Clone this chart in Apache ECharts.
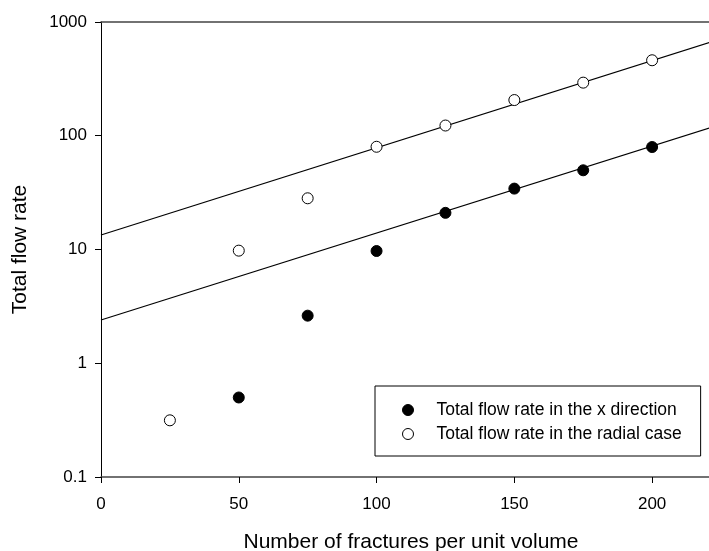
<!DOCTYPE html>
<html>
<head>
<meta charset="utf-8" />
<style>
  html, body { margin: 0; padding: 0; background: #fff; }
  #main { width: 709px; height: 551px; }
</style>
</head>
<body>
<div id="main"></div>
<script src="https://cdn.jsdelivr.net/npm/echarts@6/dist/echarts.min.js"></script>
<script>
// x positions (fractures per unit volume)
var xDirX = [50, 75, 100, 125, 150, 175, 200];
var xDirY = [0.5, 2.62, 9.7, 21, 34.3, 49.7, 79.6];
var radialX = [25, 50, 75, 100, 125, 150, 175, 200];
var radialY = [0.315, 9.77, 28.2, 80, 123, 206, 293, 461];
// straight fit lines on the log scale, end points
var fitX = [0, 225];
var fitXDir = [2.4, 126];
var fitRadial = [13.4, 711];
var xTicks = [0, 50, 100, 150, 200];
var yTicks = [0.1, 1, 10, 100, 1000];

function pairs(xs, ys) {
  return xs.map(function (x, i) { return [x, ys[i]]; });
}

var font = '"Liberation Sans", Arial, sans-serif';
var chart = echarts.init(document.getElementById('main'));

var option = {
  backgroundColor: '#fff',
  animation: false,
  textStyle: { fontFamily: font, color: '#000' },
  // plot runs past the right edge of the picture (cropped original)
  grid: { left: 101, top: 22, width: 620, bottom: 74, outerBoundsMode: 'none' },
  legend: {
    orient: 'vertical',
    left: 375,
    top: 386,
    data: ['Total flow rate in the x direction', 'Total flow rate in the radial case'],
    itemWidth: 11,
    itemHeight: 11,
    itemGap: 6,
    padding: [15, 19, 13, 27],
    borderColor: '#000',
    borderWidth: 1,
    icon: 'circle',
    itemStyle: { borderWidth: 1, borderColor: '#000' },
    textStyle: { fontSize: 17.5, color: '#000', fontFamily: font, padding: [0, 0, 0, 18] }
  },
  xAxis: [{
    type: 'value',
    min: 0,
    max: 225,
    interval: 25,
    name: 'Number of fractures per unit volume',
    nameLocation: 'middle',
    nameGap: 55,
    nameTextStyle: { fontSize: 21, color: '#000', fontFamily: font },
    axisLine: { show: true, lineStyle: { color: '#444', width: 1.5 } },
    axisTick: { show: true, length: 6, customValues: xTicks, lineStyle: { color: '#000' } },
    axisLabel: { customValues: xTicks, margin: 19, fontSize: 17, color: '#000', fontFamily: font },
    splitLine: { show: false }
  }, {
    type: 'value',
    position: 'top',
    min: 0,
    max: 225,
    axisLine: { show: true, lineStyle: { color: '#444', width: 1.5 } },
    axisTick: { show: false },
    axisLabel: { show: false },
    splitLine: { show: false }
  }],
  yAxis: {
    type: 'log',
    logBase: 10,
    min: 0.1,
    max: 1000,
    name: 'Total flow rate',
    nameLocation: 'middle',
    nameRotate: 90,
    nameGap: 70,
    nameTextStyle: { fontSize: 21, color: '#000', fontFamily: font },
    axisLine: { show: true, lineStyle: { color: '#000', width: 1 } },
    axisTick: { show: true, length: 6, customValues: yTicks, lineStyle: { color: '#000' } },
    axisLabel: {
      customValues: yTicks,
      margin: 14,
      fontSize: 17,
      color: '#000',
      fontFamily: font,
      formatter: function (v) { return String(+v.toPrecision(3)); }
    },
    minorTick: { show: false },
    splitLine: { show: false }
  },
  series: [
    {
      name: 'fitXDir',
      type: 'line',
      data: pairs(fitX, fitXDir),
      showSymbol: false,
      symbol: 'none',
      lineStyle: { color: '#000', width: 1.2 },
      silent: true,
      z: 1
    },
    {
      name: 'fitRadial',
      type: 'line',
      data: pairs(fitX, fitRadial),
      showSymbol: false,
      symbol: 'none',
      lineStyle: { color: '#000', width: 1.2 },
      silent: true,
      z: 1
    },
    {
      name: 'Total flow rate in the x direction',
      type: 'scatter',
      data: pairs(xDirX, xDirY),
      symbol: 'circle',
      symbolSize: 11,
      itemStyle: { color: '#000', borderColor: '#000', borderWidth: 1, opacity: 1 },
      z: 3
    },
    {
      name: 'Total flow rate in the radial case',
      type: 'scatter',
      data: pairs(radialX, radialY),
      symbol: 'circle',
      symbolSize: 11,
      itemStyle: { color: '#fff', borderColor: '#000', borderWidth: 1, opacity: 1 },
      z: 3
    }
  ]
};
chart.setOption(option);
</script>
</body>
</html>
